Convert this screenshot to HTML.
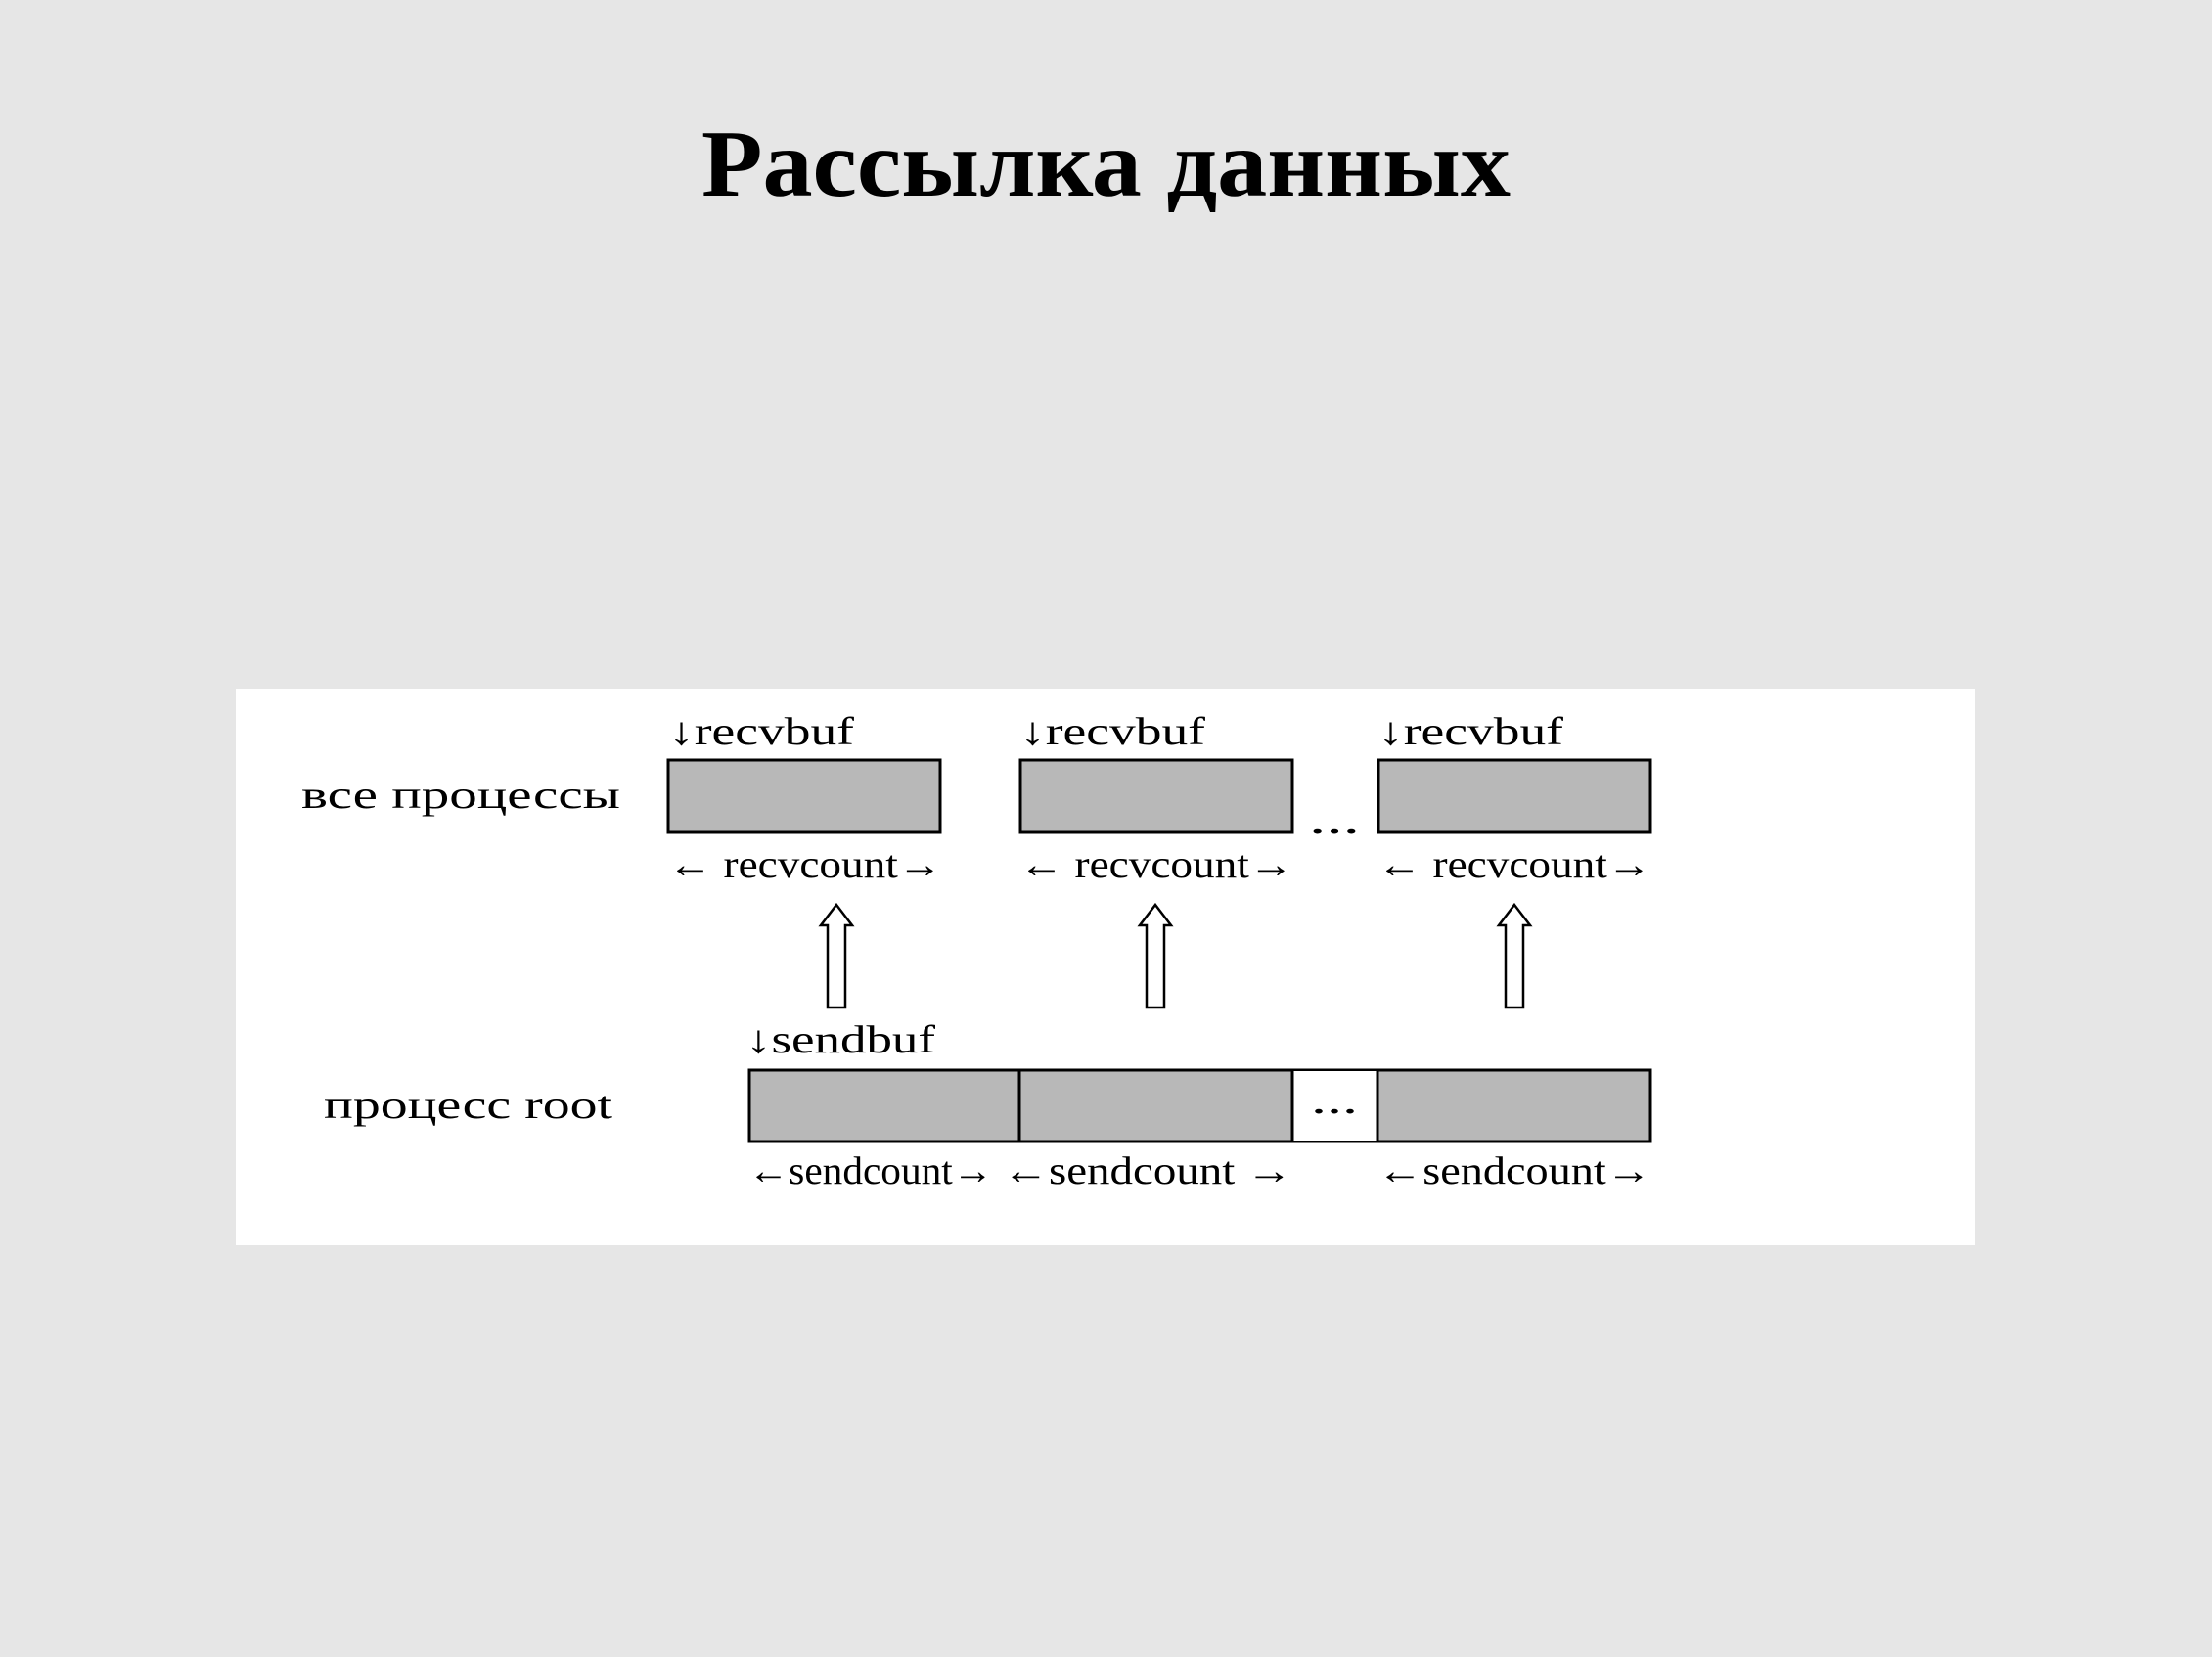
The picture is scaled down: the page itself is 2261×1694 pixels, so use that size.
<!DOCTYPE html>
<html><head><meta charset="utf-8"><style>
html,body{margin:0;padding:0;background:#e6e6e6;}
svg{display:block;}
</style></head><body>
<svg width="2261" height="1694" viewBox="0 0 2261 1694" xmlns="http://www.w3.org/2000/svg">
<rect width="2261" height="1694" fill="#e6e6e6"/>
<text x="717" y="200" font-family="Liberation Serif, serif" font-weight="bold" font-size="98" textLength="827" lengthAdjust="spacingAndGlyphs">Рассылка данных</text>
<rect x="241" y="704" width="1778" height="569" fill="#fff"/>
<g fill="#b8b8b8" stroke="#000" stroke-width="3">
<rect x="683" y="777" width="278" height="74"/>
<rect x="1043" y="777" width="278" height="74"/>
<rect x="1409" y="777" width="278" height="74"/>
<rect x="766" y="1094" width="921" height="73"/>
</g>
<rect x="1321" y="1095" width="87" height="71" fill="#fff"/>
<g stroke="#000" stroke-width="3">
<line x1="1042" y1="1094" x2="1042" y2="1167"/>
<line x1="1321" y1="1094" x2="1321" y2="1167"/>
<line x1="1408" y1="1094" x2="1408" y2="1167"/>
</g>
<g font-family="Liberation Serif, serif" font-size="40" fill="#000">
<text x="308" y="826" textLength="326" lengthAdjust="spacingAndGlyphs">все процессы</text>
<text x="331" y="1143" textLength="295" lengthAdjust="spacingAndGlyphs">процесс root</text>
<text x="683" y="761" textLength="190" lengthAdjust="spacingAndGlyphs">↓recvbuf</text>
<text x="1042" y="761" textLength="190" lengthAdjust="spacingAndGlyphs">↓recvbuf</text>
<text x="1408" y="761" textLength="190" lengthAdjust="spacingAndGlyphs">↓recvbuf</text>
<text x="683" y="897" textLength="280" lengthAdjust="spacingAndGlyphs">← recvcount→</text>
<text x="1042" y="897" textLength="280" lengthAdjust="spacingAndGlyphs">← recvcount→</text>
<text x="1408" y="897" textLength="280" lengthAdjust="spacingAndGlyphs">← recvcount→</text>
<text x="762" y="1076" textLength="194" lengthAdjust="spacingAndGlyphs">↓sendbuf</text>
<text x="765" y="1210" textLength="250" lengthAdjust="spacingAndGlyphs">←sendcount→</text>
<text x="1025" y="1210" textLength="296" lengthAdjust="spacingAndGlyphs">←sendcount →</text>
<text x="1408" y="1210" textLength="280" lengthAdjust="spacingAndGlyphs">←sendcount→</text>
<text x="1338" y="852" textLength="52" lengthAdjust="spacingAndGlyphs">...</text>
<text x="1340" y="1138" textLength="48" lengthAdjust="spacingAndGlyphs">...</text>
</g>
<g fill="#fff" stroke="#000" stroke-width="2.5">
<path d="M855 925 L871 946 L864 946 L864 1030 L846 1030 L846 946 L839 946 Z"/>
<path d="M1181 925 L1197 946 L1190 946 L1190 1030 L1172 1030 L1172 946 L1165 946 Z"/>
<path d="M1548 925 L1564 946 L1557 946 L1557 1030 L1539 1030 L1539 946 L1532 946 Z"/>
</g>
</svg>
</body></html>
